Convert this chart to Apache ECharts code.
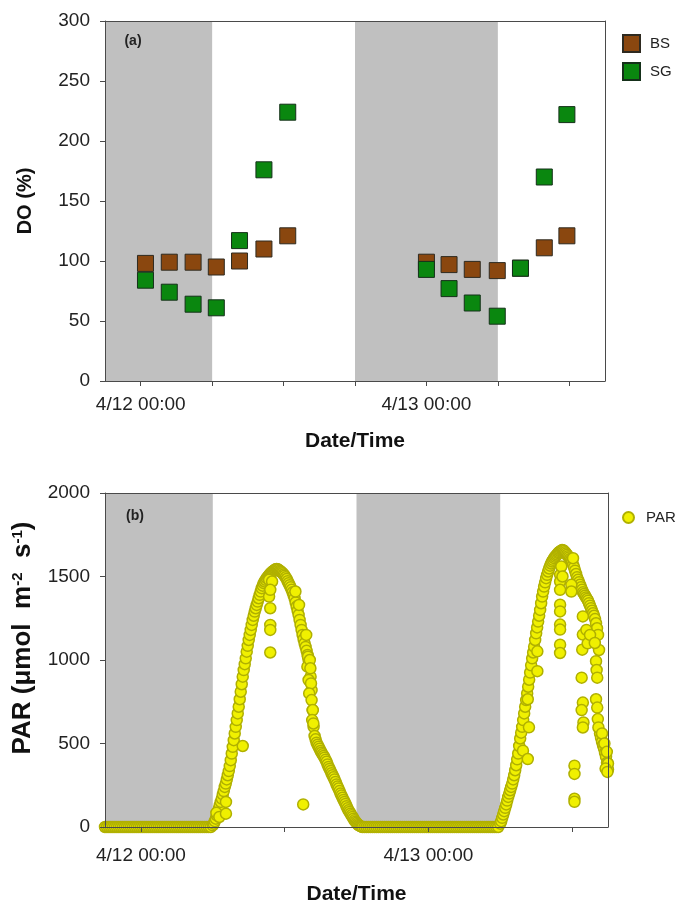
<!DOCTYPE html>
<html><head><meta charset="utf-8">
<script src="https://cdn.jsdelivr.net/npm/echarts@6/dist/echarts.min.js"></script>
<style>html,body{margin:0;padding:0;background:#fff}#chart{width:675px;height:906px}</style>
</head><body><div id="chart"></div>
<script>
// ---- data (x in hours since 4/12 00:00) ----
const xMinHour = -3, xMaxHour = 39;
const tickLabelHours = [0, 24];
const tickLabels = ['4/12 00:00', '4/13 00:00'];
const topTickHours = [0, 6, 12, 18, 24, 30, 36];
const bottomTickHours = [0, 12, 24, 36];
const nightBands = [[-3, 6], [18, 30]];

const doHours = [0.4, 2.4, 4.4, 6.35, 8.3, 10.35, 12.35, 24.0, 25.9, 27.85, 29.95, 31.9, 33.9, 35.8];
const doBS = [98, 99, 99, 95, 100, 110, 121, 99, 97, 93, 92, 94, 111, 121];
const doSG = [84, 74, 64, 61, 117, 176, 224, 93, 77, 65, 54, 94, 170, 222];

const parNight1Start = -3, parNight1StepMin = 10;
const parNight1 = [0,0,0,0,0,0,0,0,0,0, 0,0,0,0,0,0,0,0,0,0, 0,0,0,0,0,0,0,0,0,0,
  0,0,0,0,0,0,0,0,0,0, 0,0,0,0,0,0,0,0,0,0, 0,0,0,0];
const parDay1Start = 6, parDay1StepMin = 5;
const parDay1 = [
  10,20,35,50,70,90,110,130,150,170,195,215,
  240,260,285,310,335,365,400,440,480,520,560,600,
  640,680,720,765,810,855,900,940,975,1010,1050,1085,
  1120,1150,1180,1210,1240,1265,1290,1310,1330,1350,1370,1390,
  1410,1430,1445,1460,1470,1480,1490,1498,1505,1512,1520,1525,
  1530,1535,1540,1543,1545,1543,1540,1535,1530,1525,1520,1512,
  1505,1495,1485,1472,1460,1448,1435,1420,1405,1388,1370,1345,
  1320,1295,1270,1240,1210,1180,1150,1125,1100,1078,1055,1030,
  1000,960,900,820,700,600,545,525,505,492,480,468,
  455,445,435,425,415,402,390,375,360,348,335,322,
  310,298,285,270,255,242,230,215,200,188,175,162,
  150,138,125,112,100,90,80,70,60,50,40,32,
  25,18,12,8,5,2,0];
const parNight2Start = 18 + 40 / 60, parNight2StepMin = 10;
const parNight2 = [0,0,0,0,0,0,0,0,0,0, 0,0,0,0,0,0,0,0,0,0, 0,0,0,0,0,0,0,0,0,0,
  0,0,0,0,0,0,0,0,0,0, 0,0,0,0,0,0,0,0,0,0, 0,0,0,0,0,0,0,0,0,0, 0,0,0,0,0,0,0,0];
const parDay2Start = 30, parDay2StepMin = 5;
const parDay2 = [
  20,35,55,75,95,115,135,158,180,200,220,240,
  260,285,310,340,370,405,440,485,530,565,600,640,
  680,720,760,800,840,882,925,968,1010,1045,1080,1120,
  1160,1195,1230,1265,1300,1340,1380,1410,1440,1465,1490,1510,
  1530,1548,1565,1578,1590,1600,1610,1618,1625,1632,1640,1645,
  1650,1654,1658,1657,1652,1645,1638,1630,1622,1614,1605,1598,
  1590,1570,1555,1535,1515,1495,1480,1465,1450,1435,1420,1405,
  1395,1385,1375,1365,1355,1340,1325,1310,1295,1280,1265,1245,
  1220,1190,1150,1060,560,535,510,490,470,445,420,385,
  345];
const parScatterHours = [6.3,6.55,7.1,7.1,8.5, 10.7,10.95,10.7,10.8,10.8,10.8,10.8,10.8,
  12.9,13.2,13.55, 13.8,13.95,13.9,14.0,14.1,14.15,14.2,14.05,14.25,14.35,14.3,14.4,
  31.9,32.3,32.4,32.3,33.1,33.1, 35.0,35.0,35.0,35.0,35.0,35.0,35.0,35.0,35.0, 35.1,35.2,
  36.08,35.94,35.94, 36.2,36.2,36.2,36.2,
  36.9,36.9,36.85,36.8,36.9,36.8,36.95,36.9, 37.2,37.3,37.5,
  37.9,38.0,38.05,38.1,38.0,38.1,38.15,38.2, 38.5,38.7,38.9,39.0,38.8,38.95];
const parScatterValues = [85,60,150,80,485, 1480,1470,1380,1420,1310,1210,1180,1045,
  1410,1330,135, 1150,1020,960,880,1000,950,860,800,760,700,640,620,
  457,407,597,765,1052,933, 1510,1470,1420,1331,1291,1212,1182,1092,1042, 1560,1500,
  1610,1450,1410, 367,318,169,151,
  1261,1152,1062,894,745,700,626,596, 1180,1100,1150,
  1102,993,940,894,765,715,646,596, 560,500,450,380,350,330];

// ---- build ----
function seg(start, stepMin, vals) { return vals.map((v, i) => [start + i * stepMin / 60, v]); }
const parData = [].concat(
  seg(parNight1Start, parNight1StepMin, parNight1),
  seg(parDay1Start, parDay1StepMin, parDay1),
  seg(parNight2Start, parNight2StepMin, parNight2),
  seg(parDay2Start, parDay2StepMin, parDay2),
  parScatterHours.map((h, i) => [h, parScatterValues[i]])
);

const FF = '"Liberation Sans", Arial, Helvetica, sans-serif';
const AX = '#4a4a4a';
const TXT = '#222';
function hourLabel(v) { const i = tickLabelHours.indexOf(v); return i >= 0 ? tickLabels[i] : ''; }

function mainX(gi, ticks, nameGap, margin) {
  return { type: 'value', gridIndex: gi, min: xMinHour, max: xMaxHour, position: 'bottom', z: 5,
    name: 'Date/Time', nameLocation: 'middle', nameGap: nameGap,
    nameTextStyle: { fontFamily: FF, fontSize: 21, fontWeight: 'bold', color: '#111' },
    axisLine: { show: true, onZero: false, lineStyle: { color: AX, width: 1 } },
    axisTick: { show: true, inside: false, length: 5, customValues: ticks, lineStyle: { color: AX } },
    axisLabel: { show: true, customValues: tickLabelHours, formatter: hourLabel, margin: margin,
      fontSize: 19, color: TXT, fontFamily: FF },
    splitLine: { show: false } };
}
function frameX(gi) {
  return { type: 'value', gridIndex: gi, min: xMinHour, max: xMaxHour, position: 'top', z: 5,
    axisLine: { show: true, onZero: false, lineStyle: { color: AX, width: 1 } },
    axisTick: { show: false }, axisLabel: { show: false }, splitLine: { show: false } };
}
function mainY(gi, max, interval, name, nameGap) {
  return { type: 'value', gridIndex: gi, min: 0, max: max, interval: interval, position: 'left', z: 5,
    name: name, nameLocation: 'middle', nameGap: nameGap, nameRotate: 90,
    nameTextStyle: { fontFamily: FF, fontSize: 20, fontWeight: 'bold', color: '#111' },
    axisLine: { show: true, onZero: false, lineStyle: { color: AX, width: 1 } },
    axisTick: { show: true, inside: false, length: 5, lineStyle: { color: AX } },
    axisLabel: { show: true, margin: 15, fontSize: 19, color: TXT, fontFamily: FF, formatter: v => String(v) },
    splitLine: { show: false } };
}
function frameY(gi, max) {
  return { type: 'value', gridIndex: gi, min: 0, max: max, position: 'right', z: 5,
    axisLine: { show: true, onZero: false, lineStyle: { color: AX, width: 1 } },
    axisTick: { show: false }, axisLabel: { show: false }, splitLine: { show: false } };
}
function nightSeries(xi, yi) {
  return { type: 'scatter', xAxisIndex: xi, yAxisIndex: yi, data: [], silent: true, z: 1,
    markArea: { silent: true, itemStyle: { color: '#c0c0c0' },
      data: nightBands.map(b => [{ xAxis: b[0] }, { xAxis: b[1] }]) } };
}

const chart = echarts.init(document.getElementById('chart'), null, { renderer: 'canvas' });
chart.setOption({
  animation: false,
  backgroundColor: '#fff',
  textStyle: { fontFamily: FF },
  grid: [
    { left: 105, top: 21, width: 500, height: 360 },
    { left: 105, top: 493, width: 503, height: 335 }
  ],
  xAxis: [mainX(0, topTickHours, 50, 14), frameX(0), mainX(1, bottomTickHours, 57, 19), frameX(1)],
  yAxis: [mainY(0, 300, 50, 'DO (%)', 70), frameY(0, 300), mainY(1, 2000, 500, '', 60), frameY(1, 2000)],
  legend: [
    { data: ['BS', 'SG'], orient: 'vertical', left: 617, top: 29, itemWidth: 17, itemHeight: 17, itemGap: 9,
      textStyle: { fontSize: 15, color: TXT, fontFamily: FF, padding: [0, 0, 0, 5] }, selectedMode: false },
    { data: ['PAR'], orient: 'vertical', left: 617, top: 505, itemWidth: 11, itemHeight: 11,
      textStyle: { fontSize: 15, color: TXT, fontFamily: FF, padding: [0, 0, 0, 7] }, selectedMode: false }
  ],
  graphic: [
    { type: 'text', x: 133, y: 41, z: 10, style: { text: '(a)', fontFamily: FF, fontSize: 14, fontWeight: 'bold',
      fill: TXT, align: 'center', verticalAlign: 'middle' } },
    { type: 'text', x: 135, y: 516, z: 10, style: { text: '(b)', fontFamily: FF, fontSize: 14, fontWeight: 'bold',
      fill: TXT, align: 'center', verticalAlign: 'middle' } },
    { type: 'text', x: 23, y: 638, rotation: Math.PI / 2, z: 10,
      style: { text: 'PAR (\u03bcmol  m{sup|-2}  s{sup|-1})', fontFamily: FF, fontSize: 26, fontWeight: 'bold',
        fill: '#111', align: 'center', verticalAlign: 'middle',
        rich: { sup: { fontFamily: FF, fontSize: 15, fontWeight: 'bold', fill: '#111', verticalAlign: 'top', padding: [0, 0, 10, 0] } } } }
  ],
  series: [
    nightSeries(0, 0),
    { name: 'BS', type: 'scatter', xAxisIndex: 0, yAxisIndex: 0, z: 3, symbol: 'rect', symbolSize: 16,
      itemStyle: { color: '#8a470f', borderColor: '#2e2a20', borderWidth: 1, opacity: 1 },
      emphasis: { disabled: true }, data: doHours.map((h, i) => [h, doBS[i]]) },
    { name: 'SG', type: 'scatter', xAxisIndex: 0, yAxisIndex: 0, z: 3, symbol: 'rect', symbolSize: 16,
      itemStyle: { color: '#0a870f', borderColor: '#15301a', borderWidth: 1, opacity: 1 },
      emphasis: { disabled: true }, data: doHours.map((h, i) => [h, doSG[i]]) },
    nightSeries(2, 2),
    { name: 'PAR', type: 'scatter', xAxisIndex: 2, yAxisIndex: 2, z: 3, symbol: 'circle', symbolSize: 11,
      large: false, itemStyle: { color: '#f0f000', borderColor: '#b0b000', borderWidth: 1.5, opacity: 1 },
      emphasis: { disabled: true }, data: parData }
  ]
});
</script></body></html>
